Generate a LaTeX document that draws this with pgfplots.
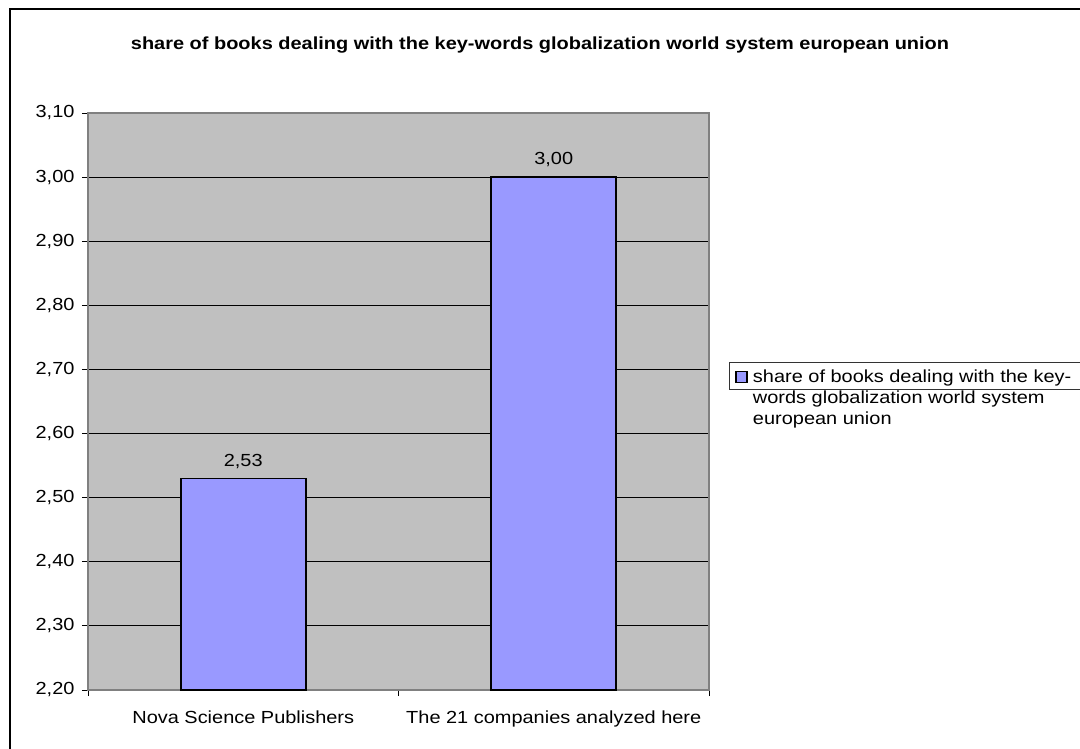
\documentclass[border=0pt]{standalone}
\usepackage{fontspec}
\setmainfont{Liberation Sans}[FakeStretch=1.14]
\usepackage{pgfplots}
\pgfplotsset{compat=1.18}
\definecolor{plotbg}{HTML}{C0C0C0}
\definecolor{barfill}{HTML}{9999FF}
\definecolor{frameg}{HTML}{808080}
\newcommand{\chfont}{\fontsize{17.5}{21}\selectfont}
\begin{document}
\begin{tikzpicture}
\useasboundingbox (0,0) rectangle (1080pt,748pt);
\fill[white] (0,0) rectangle (1080pt,748pt);
\draw[line width=2pt] (9.5pt,-20pt) -- (9.5pt,738.5pt) -- (1100pt,738.5pt);
\node[font=\chfont\bfseries] at (540pt,703pt) {share of books dealing with the key-words globalization world system european union};
\begin{axis}[
  at={(88pt,58pt)}, anchor=south west,
  scale only axis, width=621pt, height=577pt,
  ybar, bar width=125pt,
  xmin=-0.5, xmax=1.5, ymin=2.2, ymax=3.1,
  ytick={2.2,2.3,2.4,2.5,2.6,2.7,2.8,2.9,3.0,3.1},
  xtick={-0.5,0.5,1.5}, xticklabels={},
  extra x ticks={0,1},
  extra x tick labels={Nova Science Publishers,The 21 companies analyzed here},
  extra x tick style={major tick length=0pt, grid=none,
    xticklabel style={yshift=-17pt}},
  xtick pos=bottom, ytick pos=left,
  tick align=outside, major tick length=6pt,
  tick style={black, line width=0.8pt},
  axis background/.style={fill=plotbg},
  axis line style={draw=frameg, line width=1.5pt},
  ymajorgrids, major grid style={black, line width=0.8pt},
  yticklabel style={xshift=-4pt},
  every tick label/.append style={font=\chfont},
  /pgf/number format/.cd, fixed, fixed zerofill, precision=2, use comma, assume math mode=true,
  /pgfplots/.cd,
  nodes near coords,
  every node near coord/.append style={font=\chfont, yshift=6pt, black},
  legend cell align=left,
  legend style={at={(1.0322,0.5685)}, anchor=north west,
    draw=black!80, line width=1pt, fill=white, inner xsep=6pt, inner ysep=3.5pt,
    cells={anchor=base west}, font=\chfont},
  legend image code/.code={\draw[#1,draw=black,line width=1.5pt] (0pt,0pt) rectangle (11pt,11pt);},
]
\addplot[fill=barfill, draw=black, line width=1.6pt] coordinates {(0,2.53) (1,3.00)};
\addlegendentry{\begin{tabular}[t]{@{\hspace{3pt}}l@{\hspace{30pt}}}share of books dealing with the key-\\words globalization world system\\european union\end{tabular}}
\end{axis}
\end{tikzpicture}
\end{document}
